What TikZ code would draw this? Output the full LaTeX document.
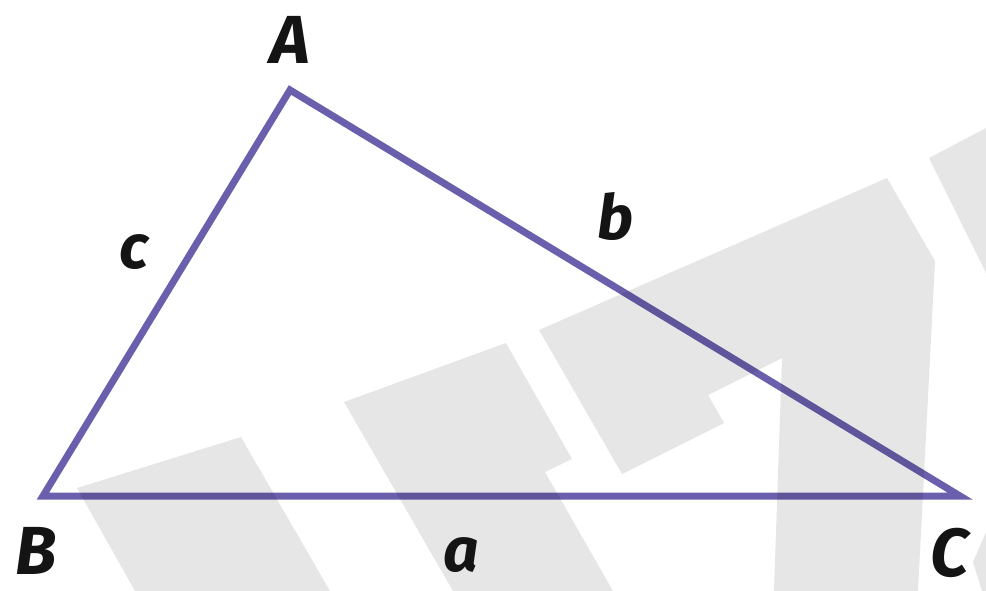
\documentclass[tikz,border=0pt]{standalone}
\usepackage{fontspec}
\setmainfont{Fira Sans}
\begin{document}
\begin{tikzpicture}[x=1pt,y=-1pt]
\definecolor{tri}{RGB}{106,95,172}
\definecolor{wm}{RGB}{230,230,230}
\tikzset{
  side/.style={draw=tri,line width=7pt,line join=miter},
  caplbl/.style={font=\fontsize{68}{72}\selectfont\bfseries\itshape,text=black!92,inner sep=0pt},
  lowlbl/.style={font=\fontsize{62}{66}\selectfont\bfseries\itshape,text=black!92,inner sep=0pt},
  wmark/.style={fill=wm,blend mode=multiply}
}
\useasboundingbox (0,0) rectangle (986,591);
\coordinate (A) at (290,90);
\coordinate (B) at (43,496);
\coordinate (C) at (960,496);
\draw[side] (A) -- (B) -- (C) -- cycle;
% watermark
\fill[wmark] (77,488) -- (241,437) -- (330,591) -- (135,591) -- cycle;
\fill[wmark] (344,402) -- (506,343) -- (572,459) -- (545,472) -- (613,591) -- (453,591) -- cycle;
\fill[wmark] (539,330) -- (887,178) -- (935,261) -- (918,591) -- (774,591) -- (782,358) -- (708,395) -- (724,423) -- (622,474) -- cycle;
\fill[wmark] (929,158) -- (986,128) -- (986,273) -- cycle;
\fill[wmark] (986,532) -- (973,562) -- (982,591) -- (986,591) -- cycle;
% labels
\node[caplbl] (lA) at (290,40) {A};
\node[caplbl] (lB) at (36,551) {B};
\node[caplbl] (lC) at (950,553) {C};
\node[lowlbl] (la) at (461,555) {a};
\node[lowlbl] (lb) at (616,216) {b};
\node[lowlbl] (lc) at (134,252) {c};
\end{tikzpicture}
\end{document}
